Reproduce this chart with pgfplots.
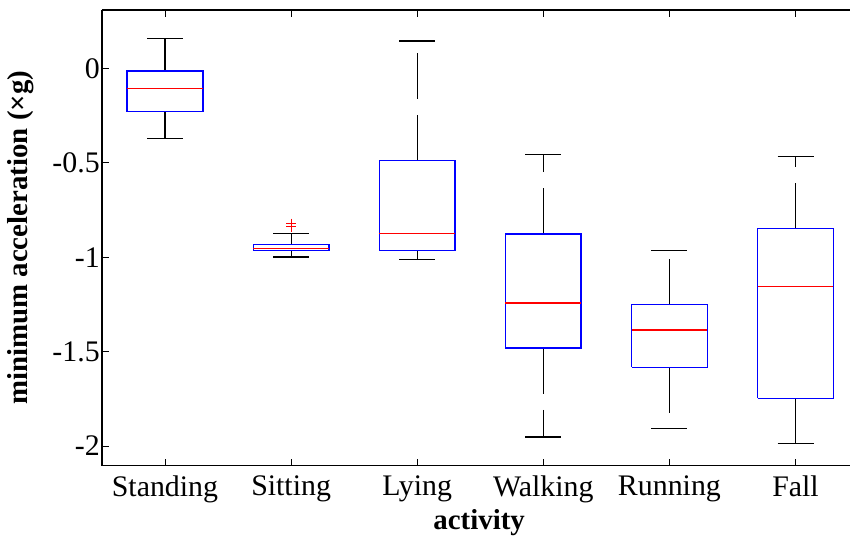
\documentclass[border=0pt]{standalone}
\usepackage{fontspec}
\setmainfont{Liberation Serif}
\usepackage{pgfplots}
\pgfplotsset{compat=1.18}
\definecolor{mblue}{RGB}{0,0,255}
\definecolor{mred}{RGB}{255,0,0}
\begin{document}
\begin{tikzpicture}
\begin{axis}[
  scale only axis,
  width=749bp, height=456bp,
  xmin=0.5, xmax=6.435,
  ymin=-2.104, ymax=0.309,
  axis y line*=left,
  axis x line=box,
  xtick={1,2,3,4,5,6},
  xticklabels={Standing,Sitting,Lying,Walking,Running,Fall},
  ytick={-2,-1.5,-1,-0.5,0},
  major tick length=7bp,
  tick style={black, line width=0.8bp},
  axis line style={black, line width=1.2bp},
  tick label style={font=\fontsize{30}{35}\selectfont},
  yticklabel style={inner xsep=2bp},
  xticklabel style={yshift=-7bp},
  /pgf/number format/assume math mode=true,
  label style={font=\fontsize{29}{34}\selectfont\bfseries},
  xlabel={activity},
  xlabel style={at={(axis description cs:0.504,0)}, anchor=base, yshift=-64bp, inner sep=1bp},
  ylabel={minimum acceleration (×g)},
  ylabel shift=13bp,
  unbounded coords=jump,
  clip=false,
]
% whiskers (dashed), from quartile outward
\addplot[black, line width=1.1bp, dash pattern=on 46bp off 16bp] coordinates {
  (1,-0.230) (1,-0.371) (nan,nan) (1,-0.013) (1,0.159) (nan,nan)
  (2,-0.966) (2,-0.999) (nan,nan) (2,-0.932) (2,-0.876) (nan,nan)
  (3,-0.966) (3,-1.013) (nan,nan) (3,-0.489) (3,0.145) (nan,nan)
  (4,-1.481) (4,-1.952) (nan,nan) (4,-0.877) (4,-0.454) (nan,nan)
  (5,-1.583) (5,-1.906) (nan,nan) (5,-1.252) (5,-0.966) (nan,nan)
  (6,-1.747) (6,-1.986) (nan,nan) (6,-0.849) (6,-0.468)
};
% whisker caps
\addplot[black, line width=1.1bp] coordinates {
  (0.8575,-0.371) (1.1425,-0.371) (nan,nan) (0.8575,0.159) (1.1425,0.159) (nan,nan)
  (1.8575,-0.999) (2.1425,-0.999) (nan,nan) (1.8575,-0.876) (2.1425,-0.876) (nan,nan)
  (2.8575,-1.013) (3.1425,-1.013) (nan,nan) (2.8575,0.145) (3.1425,0.145) (nan,nan)
  (3.8575,-1.952) (4.1425,-1.952) (nan,nan) (3.8575,-0.454) (4.1425,-0.454) (nan,nan)
  (4.8575,-1.906) (5.1425,-1.906) (nan,nan) (4.8575,-0.966) (5.1425,-0.966) (nan,nan)
  (5.8575,-1.986) (6.1425,-1.986) (nan,nan) (5.8575,-0.468) (6.1425,-0.468)
};
% boxes (lower quartile to upper quartile)
\addplot[mblue, line width=1.4bp] coordinates {
  (0.7,-0.230) (1.3,-0.230) (1.3,-0.013) (0.7,-0.013) (0.7,-0.230) (nan,nan)
  (1.7,-0.966) (2.3,-0.966) (2.3,-0.932) (1.7,-0.932) (1.7,-0.966) (nan,nan)
  (2.7,-0.966) (3.3,-0.966) (3.3,-0.489) (2.7,-0.489) (2.7,-0.966) (nan,nan)
  (3.7,-1.481) (4.3,-1.481) (4.3,-0.877) (3.7,-0.877) (3.7,-1.481) (nan,nan)
  (4.7,-1.583) (5.3,-1.583) (5.3,-1.252) (4.7,-1.252) (4.7,-1.583) (nan,nan)
  (5.7,-1.747) (6.3,-1.747) (6.3,-0.849) (5.7,-0.849) (5.7,-1.747)
};
% medians
\addplot[mred, line width=1.4bp] coordinates {
  (0.7,-0.108) (1.3,-0.108) (nan,nan)
  (1.7,-0.953) (2.3,-0.953) (nan,nan)
  (2.7,-0.876) (3.3,-0.876) (nan,nan)
  (3.7,-1.243) (4.3,-1.243) (nan,nan)
  (4.7,-1.386) (5.3,-1.386) (nan,nan)
  (5.7,-1.156) (6.3,-1.156)
};
% outliers
\addplot[mred, only marks, mark=+, mark size=5bp, mark options={line width=1.1bp}] coordinates {
  (2,-0.822) (2,-0.838)
};
\end{axis}
\path ([xshift=-102bp,yshift=10bp]current axis.north west);
\end{tikzpicture}
\end{document}
